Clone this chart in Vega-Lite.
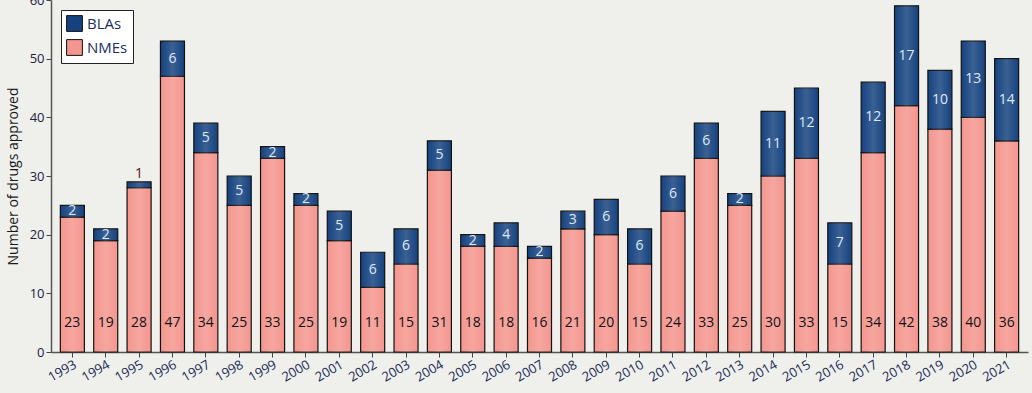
{
  "$schema": "https://vega.github.io/schema/vega-lite/v6.json",
  "width": 977,
  "height": 352,
  "autosize": {"type": "none"},
  "padding": {"left": 51, "top": 0, "right": 4, "bottom": 41},
  "background": "#efefeb",
  "config": {
    "view": {"stroke": null},
    "font": "Open Sans"
  },
  "data": {
    "values": [
      {"year": "1993", "type": "NMEs", "count": 23}, {"year": "1993", "type": "BLAs", "count": 2},
      {"year": "1994", "type": "NMEs", "count": 19}, {"year": "1994", "type": "BLAs", "count": 2},
      {"year": "1995", "type": "NMEs", "count": 28}, {"year": "1995", "type": "BLAs", "count": 1},
      {"year": "1996", "type": "NMEs", "count": 47}, {"year": "1996", "type": "BLAs", "count": 6},
      {"year": "1997", "type": "NMEs", "count": 34}, {"year": "1997", "type": "BLAs", "count": 5},
      {"year": "1998", "type": "NMEs", "count": 25}, {"year": "1998", "type": "BLAs", "count": 5},
      {"year": "1999", "type": "NMEs", "count": 33}, {"year": "1999", "type": "BLAs", "count": 2},
      {"year": "2000", "type": "NMEs", "count": 25}, {"year": "2000", "type": "BLAs", "count": 2},
      {"year": "2001", "type": "NMEs", "count": 19}, {"year": "2001", "type": "BLAs", "count": 5},
      {"year": "2002", "type": "NMEs", "count": 11}, {"year": "2002", "type": "BLAs", "count": 6},
      {"year": "2003", "type": "NMEs", "count": 15}, {"year": "2003", "type": "BLAs", "count": 6},
      {"year": "2004", "type": "NMEs", "count": 31}, {"year": "2004", "type": "BLAs", "count": 5},
      {"year": "2005", "type": "NMEs", "count": 18}, {"year": "2005", "type": "BLAs", "count": 2},
      {"year": "2006", "type": "NMEs", "count": 18}, {"year": "2006", "type": "BLAs", "count": 4},
      {"year": "2007", "type": "NMEs", "count": 16}, {"year": "2007", "type": "BLAs", "count": 2},
      {"year": "2008", "type": "NMEs", "count": 21}, {"year": "2008", "type": "BLAs", "count": 3},
      {"year": "2009", "type": "NMEs", "count": 20}, {"year": "2009", "type": "BLAs", "count": 6},
      {"year": "2010", "type": "NMEs", "count": 15}, {"year": "2010", "type": "BLAs", "count": 6},
      {"year": "2011", "type": "NMEs", "count": 24}, {"year": "2011", "type": "BLAs", "count": 6},
      {"year": "2012", "type": "NMEs", "count": 33}, {"year": "2012", "type": "BLAs", "count": 6},
      {"year": "2013", "type": "NMEs", "count": 25}, {"year": "2013", "type": "BLAs", "count": 2},
      {"year": "2014", "type": "NMEs", "count": 30}, {"year": "2014", "type": "BLAs", "count": 11},
      {"year": "2015", "type": "NMEs", "count": 33}, {"year": "2015", "type": "BLAs", "count": 12},
      {"year": "2016", "type": "NMEs", "count": 15}, {"year": "2016", "type": "BLAs", "count": 7},
      {"year": "2017", "type": "NMEs", "count": 34}, {"year": "2017", "type": "BLAs", "count": 12},
      {"year": "2018", "type": "NMEs", "count": 42}, {"year": "2018", "type": "BLAs", "count": 17},
      {"year": "2019", "type": "NMEs", "count": 38}, {"year": "2019", "type": "BLAs", "count": 10},
      {"year": "2020", "type": "NMEs", "count": 40}, {"year": "2020", "type": "BLAs", "count": 13},
      {"year": "2021", "type": "NMEs", "count": 36}, {"year": "2021", "type": "BLAs", "count": 14}
    ]
  },
  "encoding": {
    "x": {
      "field": "year",
      "type": "nominal",
      "scale": {"paddingInner": 0.28, "paddingOuter": 0.28},
      "axis": {
        "title": null,
        "labelAngle": -30,
        "labelFontSize": 13,
        "labelColor": "#172a55",
        "labelPadding": 1,
        "tickColor": "#444444",
        "tickSize": 5,
        "domainColor": "#555555",
        "domainWidth": 1.5
      }
    },
    "y": {
      "field": "count",
      "type": "quantitative",
      "stack": "zero",
      "scale": {"domain": [0, 60]},
      "axis": {
        "title": "Number of drugs approved",
        "titleFontSize": 14,
        "titleFontWeight": "normal",
        "titleColor": "#1a1a1a",
        "titlePadding": 9,
        "values": [0, 10, 20, 30, 40, 50, 60],
        "grid": false,
        "labelFontSize": 13,
        "labelColor": "#1a2240",
        "tickColor": "#444444",
        "tickSize": 5,
        "domainColor": "#555555",
        "domainWidth": 1.5
      }
    },
    "order": {"field": "type", "sort": "descending"}
  },
  "layer": [
    {
      "mark": {"type": "bar", "stroke": "#111111", "strokeWidth": 1.2},
      "encoding": {
        "color": {
          "field": "type",
          "type": "nominal",
          "scale": {"domain": ["BLAs", "NMEs"], "range": ["#15427f", "#f4968e"]},
          "legend": {
            "title": null,
            "orient": "top-left",
            "offset": 10,
            "fillColor": "#ffffff",
            "strokeColor": "#222222",
            "padding": 5,
            "symbolType": "square",
            "symbolSize": 250,
            "symbolStrokeColor": "#111111",
            "symbolStrokeWidth": 1,
            "labelFontSize": 15,
            "labelColor": "#1c2f5e",
            "rowPadding": 3
          }
        }
      }
    },
    {
      "mark": {
        "type": "bar",
        "strokeWidth": 0,
        "fill": {
          "gradient": "linear",
          "x1": 0, "y1": 0, "x2": 1, "y2": 0,
          "stops": [
            {"offset": 0, "color": "rgba(255,255,255,0)"},
            {"offset": 0.5, "color": "rgba(255,255,255,0.16)"},
            {"offset": 1, "color": "rgba(255,255,255,0)"}
          ]
        }
      },
      "encoding": {
        "detail": {"field": "type"}
      }
    },
    {
      "mark": {"type": "text", "fontSize": 14, "color": "#dde9f7"},
      "encoding": {
        "y": {"field": "count", "type": "quantitative", "stack": "zero", "bandPosition": 0.5},
        "text": {"field": "count", "type": "quantitative"},
        "opacity": {"condition": {"test": "datum.type === 'BLAs' && datum.count >= 2", "value": 1}, "value": 0}
      }
    },
    {
      "mark": {"type": "text", "fontSize": 14, "color": "#5a1010", "dy": -8},
      "encoding": {
        "text": {"field": "count", "type": "quantitative"},
        "opacity": {"condition": {"test": "datum.type === 'BLAs' && datum.count < 2", "value": 1}, "value": 0}
      }
    },
    {
      "transform": [{"filter": "datum.type === 'NMEs'"}],
      "mark": {"type": "text", "fontSize": 14, "color": "#111111"},
      "encoding": {
        "y": {"datum": 5, "type": "quantitative"},
        "text": {"field": "count", "type": "quantitative"}
      }
    }
  ]
}
